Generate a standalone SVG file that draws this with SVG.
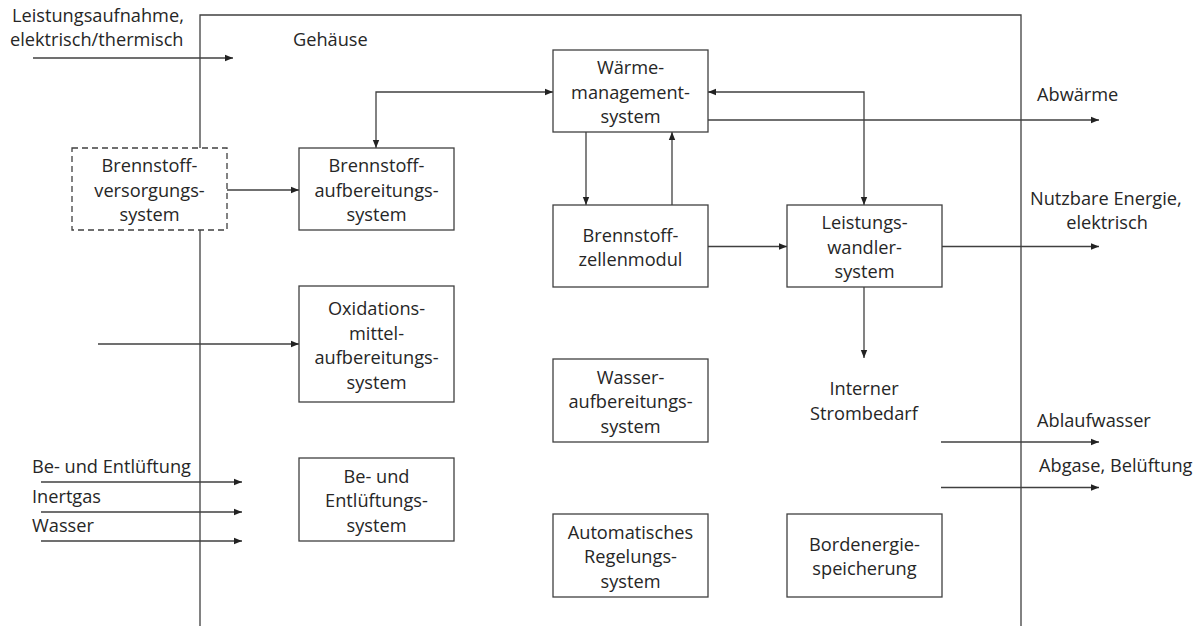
<svg xmlns="http://www.w3.org/2000/svg" width="1201" height="626" viewBox="0 0 1201 626">
<style>
text{font-family:"Open Sans","Liberation Sans",sans-serif;font-size:18.2px;fill:#262626}
.c{text-anchor:middle}
.box{fill:#fff;stroke:#404040;stroke-width:1.3}
.dash{stroke-dasharray:6 4}
.ln{fill:none;stroke:#404040;stroke-width:1.3}
.ar{marker-end:url(#ah)}
.bi{marker-start:url(#ah);marker-end:url(#ah)}
</style>
<defs>
<marker id="ah" viewBox="0 0 10 10" refX="10" refY="5" markerWidth="9" markerHeight="8" orient="auto-start-reverse" markerUnits="userSpaceOnUse"><path d="M0,1 L10,5 L0,9 z" fill="#222"/></marker>
</defs>
<rect width="1201" height="626" fill="#fff"/>
<g id="housing">
<path class="ln" d="M200,148 V15 H1021 V626 M200,230 V626"/>
<text x="293" y="46">Gehäuse</text>
</g>
<g id="connectors">
<path class="ln ar" d="M33,58 H233"/>
<path class="ln ar" d="M227,190 H299"/>
<path class="ln bi" d="M553,92 H376 V148"/>
<path class="ln bi" d="M708,92 H864 V205"/>
<path class="ln ar" d="M586,132 V205"/>
<path class="ln ar" d="M672,205 V132"/>
<path class="ln ar" d="M708,246.5 H787"/>
<path class="ln ar" d="M708,120 H1099"/>
<path class="ln ar" d="M942,246.5 H1099"/>
<path class="ln ar" d="M864,287 V358"/>
<path class="ln ar" d="M98,344 H299"/>
<path class="ln ar" d="M41,482 H242"/>
<path class="ln ar" d="M41,512 H242"/>
<path class="ln ar" d="M41,541 H242"/>
<path class="ln ar" d="M941,442 H1099"/>
<path class="ln ar" d="M941,487.5 H1099"/>
</g>
<g id="labels">
<text x="12" y="22">Leistungsaufnahme,</text>
<text x="10" y="46">elektrisch/thermisch</text>
<text x="1037" y="101">Abwärme</text>
<text x="1030" y="205">Nutzbare Energie,</text>
<text class="c" x="1107" y="229">elektrisch</text>
<text class="c" x="864" y="395">Interner</text>
<text class="c" x="864" y="420">Strombedarf</text>
<text x="1037" y="427">Ablaufwasser</text>
<text x="1039" y="472">Abgase, Belüftung</text>
<text x="32" y="473">Be- und Entlüftung</text>
<text x="32" y="503">Inertgas</text>
<text x="32" y="532">Wasser</text>
</g>
<g id="fuel_supply">
<rect class="box dash" x="72" y="148" width="155" height="82"/>
<text class="c" x="149.5" y="172">Brennstoff-</text>
<text class="c" x="149.5" y="196.5">versorgungs-</text>
<text class="c" x="149.5" y="221">system</text>
</g>
<g id="fuel_processing">
<rect class="box" x="299" y="148" width="155" height="82"/>
<text class="c" x="376.5" y="172">Brennstoff-</text>
<text class="c" x="376.5" y="196.5">aufbereitungs-</text>
<text class="c" x="376.5" y="221">system</text>
</g>
<g id="thermal_management">
<rect class="box" x="553" y="50" width="155" height="82"/>
<text class="c" x="630.5" y="74">Wärme-</text>
<text class="c" x="630.5" y="98.5">management-</text>
<text class="c" x="630.5" y="123">system</text>
</g>
<g id="fuel_cell_module">
<rect class="box" x="553" y="205" width="155" height="82"/>
<text class="c" x="630.5" y="241.5">Brennstoff-</text>
<text class="c" x="630.5" y="266">zellenmodul</text>
</g>
<g id="power_conditioning">
<rect class="box" x="787" y="205" width="155" height="82"/>
<text class="c" x="864.5" y="229">Leistungs-</text>
<text class="c" x="864.5" y="253.5">wandler-</text>
<text class="c" x="864.5" y="278">system</text>
</g>
<g id="oxidant_processing">
<rect class="box" x="299" y="286" width="155" height="116"/>
<text class="c" x="376.5" y="315">Oxidations-</text>
<text class="c" x="376.5" y="339.5">mittel-</text>
<text class="c" x="376.5" y="364">aufbereitungs-</text>
<text class="c" x="376.5" y="388.5">system</text>
</g>
<g id="water_treatment">
<rect class="box" x="553" y="359" width="155" height="83"/>
<text class="c" x="630.5" y="383.5">Wasser-</text>
<text class="c" x="630.5" y="408">aufbereitungs-</text>
<text class="c" x="630.5" y="432.5">system</text>
</g>
<g id="ventilation">
<rect class="box" x="299" y="458" width="155" height="83"/>
<text class="c" x="376.5" y="482.5">Be- und</text>
<text class="c" x="376.5" y="507">Entlüftungs-</text>
<text class="c" x="376.5" y="531.5">system</text>
</g>
<g id="automatic_control">
<rect class="box" x="553" y="514" width="155" height="83"/>
<text class="c" x="630.5" y="538.5">Automatisches</text>
<text class="c" x="630.5" y="563">Regelungs-</text>
<text class="c" x="630.5" y="587.5">system</text>
</g>
<g id="onboard_storage">
<rect class="box" x="787" y="514" width="155" height="83"/>
<text class="c" x="864.5" y="550.5">Bordenergie-</text>
<text class="c" x="864.5" y="575">speicherung</text>
</g>
</svg>
